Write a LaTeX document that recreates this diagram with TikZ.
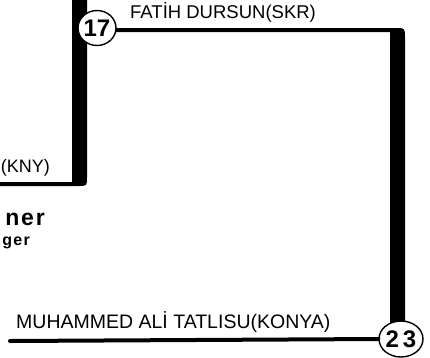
\documentclass[tikz,border=0pt]{standalone}
\usepackage{fontspec}
\setmainfont{Liberation Sans}
\usetikzlibrary{shapes.geometric}
\pgfdeclareradialshading{seedball}{\pgfpoint{-8bp}{8bp}}{color(0bp)=(white); color(26bp)=(white); color(40bp)=(gray!35); color(50bp)=(gray!75)}
\begin{document}
\begin{tikzpicture}[x=1pt,y=-1pt,
  seed/.style={ellipse, draw=black, line width=1.4pt, inner sep=0pt,
    shading=seedball,
    font=\fontsize{24}{24}\selectfont\bfseries},
  player/.style={inner sep=0pt, font=\fontsize{18.5}{18.5}\selectfont},
  link/.style={line width=4pt, line cap=round},
  bar/.style={fill=black}]
\useasboundingbox (0,0) rectangle (430,357);
\clip (0,0) rectangle (430,357);
% left bracket bar
\fill[bar] (72,-2) -- (87,-2) -- (87,177) .. controls (87,186) .. (78,186)
  -- (-2,186) -- (-2,182) -- (72,182) -- cycle;
% right bracket bar with top link
\fill[bar] (105,28) -- (396,28) .. controls (405,28) .. (405,38)
  -- (405,330) -- (390,330) -- (390,32) -- (105,32) -- cycle;
% nodes
\node[seed, minimum width=38pt, minimum height=35pt] (c17) at (97,28) {17};
\node[seed, minimum width=44pt, minimum height=36pt] (c23) at (401,339) {2\,3};
\coordinate (mstart) at (10,341);
\draw[link] (mstart) -- (c23.west);
% labels
\node[player, anchor=base west] (fatih) at (130,18) {FATİH DURSUN(SKR)};
\node[player, anchor=base west, font=\fontsize{19.5}{19.5}\selectfont] (muh) at (16,328.5) {MUHAMMED ALİ TATLISU(KONYA)};
\node[player, anchor=base east, font=\fontsize{18}{18}\selectfont] (kny) at (50,172) {(KNY)};
\node[inner sep=0pt, anchor=base east, font=\fontsize{23}{23}\selectfont\bfseries\addfontfeatures{LetterSpace=8}] (ner) at (45,225) {ner};
\node[inner sep=0pt, anchor=base east, font=\fontsize{16}{16}\selectfont\bfseries\addfontfeatures{LetterSpace=8}] (ger) at (30,245) {ger};
\end{tikzpicture}
\end{document}
